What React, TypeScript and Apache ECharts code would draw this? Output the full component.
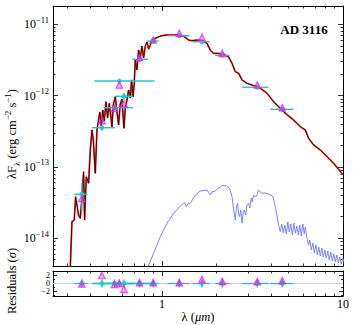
import React, { useEffect, useRef } from "react";
import * as echarts from "echarts";

// ---------- data (wavelength in micron, flux in erg cm^-2 s^-1) ----------
const modelWave = [0.3114, 0.3182, 0.3277, 0.3332, 0.3461, 0.3537, 0.3605, 0.3689, 0.3736, 0.3818, 0.3931, 0.4017, 0.4105, 0.4173, 0.428, 0.4374, 0.4447, 0.4533, 0.462, 0.4709, 0.48, 0.4905, 0.5005, 0.5113, 0.5212, 0.5293, 0.538, 0.5521, 0.5641, 0.5756, 0.5882, 0.6012, 0.6167, 0.6269, 0.6406, 0.6538, 0.6681, 0.6792, 0.6915, 0.7031, 0.712, 0.7276, 0.7426, 0.7589, 0.7753, 0.7912, 0.8086, 0.8262, 0.8433, 0.8618, 0.8807, 0.9184, 0.9541, 1.0, 1.066, 1.159, 1.235, 1.316, 1.403, 1.465, 1.561, 1.663, 1.773, 1.849, 1.928, 2.054, 2.189, 2.333, 2.437, 2.541, 2.65, 2.767, 2.949, 3.207, 3.492, 3.803, 4.137, 4.504, 4.8, 5.335, 5.809, 6.19, 6.455, 6.88, 7.491, 8.159, 8.873, 9.874, 10.0];
const modelFlux = [3.82e-15, 1.7e-14, 1.8e-14, 3.82e-14, 2.11e-14, 1.9e-14, 3.43e-14, 8.57e-14, 1.8e-14, 7.29e-14, 5.89e-14, 1.73e-13, 3.3e-13, 2.38e-13, 8.13e-14, 3.3e-13, 4.27e-13, 5.89e-13, 3.75e-13, 6.28e-13, 4.4e-13, 8.2e-13, 4.85e-13, 7.8e-13, 5.18e-13, 3.63e-13, 7.38e-13, 9.66e-13, 5.89e-13, 3.87e-13, 7.62e-13, 8.95e-13, 3.48e-13, 6.7e-13, 8.67e-13, 1.2e-12, 9.25e-13, 1.66e-12, 9.55e-13, 1.5e-12, 3.16e-12, 2.29e-12, 4.36e-12, 3.37e-12, 4.96e-12, 3.37e-12, 4.96e-12, 5.65e-12, 4.5e-12, 5.13e-12, 6.02e-12, 6.36e-12, 6.64e-12, 6.92e-12, 7.08e-12, 7.08e-12, 7.08e-12, 6.85e-12, 6.02e-12, 5.89e-12, 6.02e-12, 5.89e-12, 5.41e-12, 4.36e-12, 3.92e-12, 3.92e-12, 3.79e-12, 3.51e-12, 2.84e-12, 2.16e-12, 2.06e-12, 1.66e-12, 1.49e-12, 1.38e-12, 1.27e-12, 1.08e-12, 8.21e-13, 6.64e-13, 5.65e-13, 4.55e-13, 3.66e-13, 3.3e-13, 2.52e-13, 2.03e-13, 1.73e-13, 1.39e-13, 1.12e-13, 8.13e-14, 7.8e-14];

const specWave = [0.814, 0.8987, 0.9786, 1.066, 1.159, 1.262, 1.333, 1.362, 1.388, 1.434, 1.528, 1.627, 1.773, 1.849, 1.889, 1.945, 2.013, 2.146, 2.266, 2.363, 2.437, 2.487, 2.541, 2.574, 2.617, 2.65, 2.684, 2.725, 2.767, 2.814, 2.85, 2.904, 2.941, 3.009, 3.055, 3.114, 3.154, 3.207, 3.277, 3.349, 3.404, 3.568, 3.722, 3.882, 4.106, 4.227, 4.32, 4.409, 4.504, 4.591, 4.679, 4.769, 4.861, 4.955, 5.05, 5.148, 5.248, 5.349, 5.452, 5.558, 5.662, 5.772, 5.883, 5.997, 6.113, 6.19, 6.325, 6.455, 6.556, 6.682, 6.81, 6.941, 7.075, 7.211, 7.35, 7.491, 7.636, 7.783, 7.931, 8.085, 8.241, 8.4, 8.562, 8.727, 8.896, 9.068, 9.242, 9.419, 9.601, 9.786, 9.975, 10.2];
const specFlux = [3.36e-15, 6.14e-15, 1.05e-14, 1.62e-14, 2.23e-14, 2.83e-14, 3.19e-14, 2.77e-14, 3.02e-14, 3.09e-14, 4.04e-14, 4.59e-14, 4.74e-14, 4.04e-14, 4.49e-14, 4.49e-14, 4.85e-14, 5.45e-14, 5.45e-14, 5.01e-14, 3.82e-14, 2.49e-14, 1.8e-14, 2.65e-14, 3.09e-14, 2.18e-14, 2.0e-14, 2.49e-14, 1.62e-14, 2.33e-14, 2.49e-14, 2.11e-14, 2.92e-14, 3.09e-14, 2.65e-14, 3.66e-14, 3.22e-14, 4.04e-14, 3.78e-14, 4.04e-14, 4.74e-14, 4.27e-14, 4.31e-14, 4.17e-14, 3.82e-14, 2.77e-14, 2.05e-14, 1.53e-14, 1.23e-14, 1.58e-14, 1.18e-14, 1.53e-14, 1.15e-14, 1.69e-14, 1.22e-14, 1.58e-14, 1.11e-14, 1.63e-14, 1.18e-14, 1.48e-14, 1.11e-14, 1.53e-14, 1.07e-14, 1.58e-14, 1.15e-14, 1.44e-14, 9.97e-15, 8.03e-15, 9.44e-15, 6.83e-15, 8.57e-15, 6.19e-15, 8.03e-15, 5.81e-15, 7.53e-15, 5.62e-15, 7.29e-15, 5.45e-15, 6.83e-15, 5.27e-15, 6.61e-15, 4.94e-15, 6.4e-15, 4.79e-15, 6.0e-15, 4.64e-15, 5.81e-15, 4.49e-15, 5.45e-15, 4.35e-15, 5.27e-15, 4.2e-15];

const photWave = [0.361, 0.466, 0.547, 0.581, 0.617, 0.752, 0.895, 1.246, 1.663, 2.153, 3.36, 4.62];
const photWaveLo = [0.328, 0.41, 0.476, 0.424, 0.552, 0.688, 0.83, 1.074, 1.476, 1.97, 2.77, 3.97];
const photWaveHi = [0.388, 0.547, 0.692, 0.91, 0.692, 0.837, 0.96, 1.415, 1.832, 2.363, 3.88, 5.33];
const photFlux = [4.13e-14, 3.55e-13, 6.76e-13, 1.6e-12, 9.77e-13, 3.23e-12, 5.83e-12, 6.92e-12, 5.7e-12, 3.67e-12, 1.31e-12, 6.43e-13];
const photFluxErr = [1.76e-14, 3.5e-14, 5.5e-14, 8e-14, 1.0e-13, 2.0e-13, 3.0e-13, 4.2e-13, 4.0e-13, 2.2e-13, 6.5e-14, 3.2e-14];
const synthFlux = [3.63e-14, 4.45e-13, 6.64e-13, 1.41e-12, 7.69e-13, 3.4e-12, 6.03e-12, 7.48e-12, 6.58e-12, 3.92e-12, 1.41e-12, 6.76e-13];
const residuals = [-0.1, 2.0, -0.2, 0.0, -1.45, 0.2, 0.2, 0.2, 1.05, 0.55, 0.45, 0.7];

const xTickValues = [1, 10];
const xMinorValues = [0.3, 0.4, 0.5, 0.6, 0.7, 0.8, 0.9, 2, 3, 4, 5, 6, 7, 8, 9];
const yTickExps = [-14, -13, -12, -11];
const resTicks = [-2, 0, 2];
const resOuterLabels = [-2, 2];
const resMidLabels = [0];
const resMinorTicks = [-3, -1, 1, 3];

// ---------- styling ----------
const FONT = "Liberation Serif";
const CYAN = "#1fc6c6";
const MAG = "#ee22ee";
const L = (v: number) => Math.log10(v);

const X_MIN = L(0.25);
const X_MAX = 1;
const Y_MIN = -14.39;
const Y_MAX = -10.743;
const R_MIN = -3.125;
const R_MAX = 3.125;

const xMajor = xTickValues.map(L);
const xMinor = xMinorValues.map(L);
const yMinor: number[] = [];
[-15, -14, -13, -12, -11].forEach((e) => {
  for (let k = 2; k <= 9; k++) {
    const v = e + L(k);
    if (v > Y_MIN && v < Y_MAX) yMinor.push(v);
  }
});

function axis(gridIndex: number, position: string, min: number, max: number, values: number[], length: number, showLine: boolean, label?: any, labelValues?: number[]) {
  return {
    type: "value",
    gridIndex,
    position,
    min,
    max,
    axisLine: { show: showLine, onZero: false, lineStyle: { color: "#000", width: 1 } },
    axisTick: { show: length > 0, inside: true, length, customValues: values, lineStyle: { color: "#000", width: 0.8 } },
    axisLabel: label
      ? { show: true, customValues: labelValues || values, showMinLabel: true, showMaxLabel: true, hideOverlap: false, ...label }
      : { show: false },
    splitLine: { show: false },
    axisPointer: { show: false },
  };
}

const xLabel = {
  fontFamily: FONT,
  fontSize: 12,
  color: "#000",
  margin: 2,
  formatter: (v: number) => String(Math.round(Math.pow(10, v))),
};
const yLabel = {
  margin: 4,
  fontFamily: FONT,
  formatter: (v: number) => `{b|10}{s|−${Math.round(-v)}}`,
  rich: {
    b: { fontFamily: FONT, fontSize: 12, lineHeight: 18, color: "#000" },
    s: { fontFamily: FONT, fontSize: 8.5, lineHeight: 10, verticalAlign: "top", color: "#000" },
  },
};
const rLabel = {
  fontFamily: FONT,
  fontSize: 8,
  lineHeight: 7,
  color: "#000",
  margin: 3,
  formatter: (v: number) => (v < 0 ? `−${-v}` : `${v}`),
};

function errRender(params: any, api: any) {
  const x = api.value(0), xl = api.value(1), xh = api.value(2);
  const y = api.value(3), yl = api.value(4), yh = api.value(5);
  const p1 = api.coord([xl, y]);
  const p2 = api.coord([xh, y]);
  const p3 = api.coord([x, yl]);
  const p4 = api.coord([x, yh]);
  const style = { stroke: CYAN, lineWidth: 1.4 };
  return {
    type: "group",
    children: [
      { type: "line", shape: { x1: p1[0], y1: p1[1], x2: p2[0], y2: p2[1] }, style },
      { type: "line", shape: { x1: p3[0], y1: p3[1], x2: p4[0], y2: p4[1] }, style },
    ],
  };
}

const fnt = (size: number, pre = "") => `${pre}${size}px "${FONT}"`;
const tok = (size: number, extra: any = {}, pre = "") => ({ font: fnt(size, pre), fontFamily: FONT, fontSize: size, fill: "#000", ...extra });

export default function App() {
  const ref = useRef<HTMLDivElement>(null);
  useEffect(() => {
    if (!ref.current) return;
    const chart = echarts.init(ref.current, null, { renderer: "svg" });
    const modelData = modelWave.map((w, i) => [L(w), L(modelFlux[i])]);
    const option: any = {
      animation: false,
      backgroundColor: "#fff",
      textStyle: { fontFamily: FONT },
      grid: [
        { left: 53, top: 6, width: 290, height: 260 },
        { left: 53, top: 271, width: 290, height: 25 },
      ],
      xAxis: [
        axis(0, "bottom", X_MIN, X_MAX, xMajor, 5, true),
        axis(0, "bottom", X_MIN, X_MAX, xMinor, 2.5, false),
        axis(0, "top", X_MIN, X_MAX, xMajor, 5, true),
        axis(0, "top", X_MIN, X_MAX, xMinor, 2.5, false),
        axis(1, "bottom", X_MIN, X_MAX, xMajor, 5, true, xLabel),
        axis(1, "bottom", X_MIN, X_MAX, xMinor, 2.5, false),
        axis(1, "top", X_MIN, X_MAX, xMajor, 5, true),
        axis(1, "top", X_MIN, X_MAX, xMinor, 2.5, false),
      ],
      yAxis: [
        axis(0, "left", Y_MIN, Y_MAX, yTickExps, 5, true, yLabel),
        axis(0, "left", Y_MIN, Y_MAX, yMinor, 2.5, false),
        axis(0, "right", Y_MIN, Y_MAX, yTickExps, 5, true),
        axis(0, "right", Y_MIN, Y_MAX, yMinor, 2.5, false),
        axis(1, "left", R_MIN, R_MAX, resTicks, 4, true, rLabel, resOuterLabels),
        axis(1, "left", R_MIN, R_MAX, resMinorTicks, 2, false),
        axis(1, "right", R_MIN, R_MAX, resTicks, 4, true),
        axis(1, "right", R_MIN, R_MAX, resMinorTicks, 2, false),
        axis(1, "left", R_MIN, R_MAX, resMidLabels, 0, false, rLabel, resMidLabels),
      ],
      series: [
        {
          type: "line", xAxisIndex: 0, yAxisIndex: 0, silent: true, symbol: "none", z: 2,
          data: specWave.map((w, i) => [L(w), L(specFlux[i])]),
          lineStyle: { color: "#8080ff", width: 1 },
        },
        {
          type: "line", xAxisIndex: 0, yAxisIndex: 0, silent: true, symbol: "none", z: 3,
          data: modelData,
          lineStyle: { color: "#e81818", width: 1.8, opacity: 0.85 },
        },
        {
          type: "line", xAxisIndex: 0, yAxisIndex: 0, silent: true, symbol: "none", z: 4,
          data: modelData,
          lineStyle: { color: "#3a0000", width: 0.9 },
        },
        {
          type: "custom", xAxisIndex: 0, yAxisIndex: 0, silent: true, z: 5,
          renderItem: errRender,
          encode: { x: 0, y: 3 },
          data: photWave.map((w, i) => [L(w), L(photWaveLo[i]), L(photWaveHi[i]), L(photFlux[i]), L(photFlux[i] - photFluxErr[i]), L(photFlux[i] + photFluxErr[i])]),
        },
        {
          type: "scatter", xAxisIndex: 0, yAxisIndex: 0, silent: true, z: 6,
          symbol: "circle", symbolSize: 5,
          itemStyle: { color: CYAN },
          data: photWave.map((w, i) => [L(w), L(photFlux[i])]),
        },
        {
          type: "scatter", xAxisIndex: 0, yAxisIndex: 0, silent: true, z: 7,
          symbol: "triangle", symbolSize: 6.5,
          itemStyle: { color: "rgba(150,40,190,0.45)", borderColor: MAG, borderWidth: 1.2 },
          data: photWave.map((w, i) => [L(w), L(synthFlux[i])]),
        },
        {
          type: "line", xAxisIndex: 4, yAxisIndex: 4, silent: true, symbol: "none", z: 2,
          data: [[X_MIN, 0], [X_MAX, 0]],
          lineStyle: { color: "#d0d0d0", width: 1 },
        },
        {
          type: "custom", xAxisIndex: 4, yAxisIndex: 4, silent: true, z: 5,
          renderItem: errRender,
          encode: { x: 0, y: 3 },
          data: photWave.map((w, i) => [L(w), L(photWaveLo[i]), L(photWaveHi[i]), 0, -1, 1]),
        },
        {
          type: "scatter", xAxisIndex: 4, yAxisIndex: 4, silent: true, z: 6,
          symbol: "circle", symbolSize: 5,
          itemStyle: { color: CYAN },
          data: photWave.map((w) => [L(w), 0]),
        },
        {
          type: "scatter", xAxisIndex: 4, yAxisIndex: 4, silent: true, z: 7,
          symbol: "triangle", symbolSize: 6.5,
          itemStyle: { color: "rgba(150,40,190,0.45)", borderColor: MAG, borderWidth: 1.2 },
          data: photWave.map((w, i) => [L(w), residuals[i]]),
        },
      ],
      graphic: [
        {
          type: "text", x: 304, y: 29, z: 100,
          style: { ...tok(13, {}, "bold "), fontWeight: "bold", text: "AD 3116", align: "center", verticalAlign: "middle" },
        },
        {
          type: "text", x: 12, y: 134, rotation: Math.PI / 2, z: 100,
          style: {
            ...tok(12.5),
            text: "{n|λF}{sub|λ}{n| (erg cm}{sup|−2}{n| s}{sup|−1}{n|)}",
            align: "center", verticalAlign: "middle",
            rich: {
              n: tok(12.5, { lineHeight: 18 }),
              sub: tok(9, { lineHeight: 10, verticalAlign: "bottom" }),
              sup: tok(9, { lineHeight: 10, verticalAlign: "top" }),
            },
          },
        },
        {
          type: "text", x: 12, y: 281, rotation: Math.PI / 2, z: 100,
          style: {
            ...tok(12.5),
            text: "{n|Residuals (}{i|σ}{n|)}",
            align: "center", verticalAlign: "middle",
            rich: {
              n: tok(12.5),
              i: tok(12.5, { fontStyle: "italic" }, "italic "),
            },
          },
        },
        {
          type: "text", x: 198, y: 317, z: 100,
          style: {
            ...tok(12.5),
            text: "{n|λ (}{i|μm}{n|)}",
            align: "center", verticalAlign: "middle",
            rich: {
              n: tok(12.5),
              i: tok(12.5, { fontStyle: "italic" }, "italic "),
            },
          },
        },
      ],
    };
    chart.setOption(option);
    return () => chart.dispose();
  }, []);
  return (
    <div
      ref={ref}
      style={{ position: "fixed", left: 0, top: 0, width: 357, height: 325, background: "#fff" }}
    />
  );
}
